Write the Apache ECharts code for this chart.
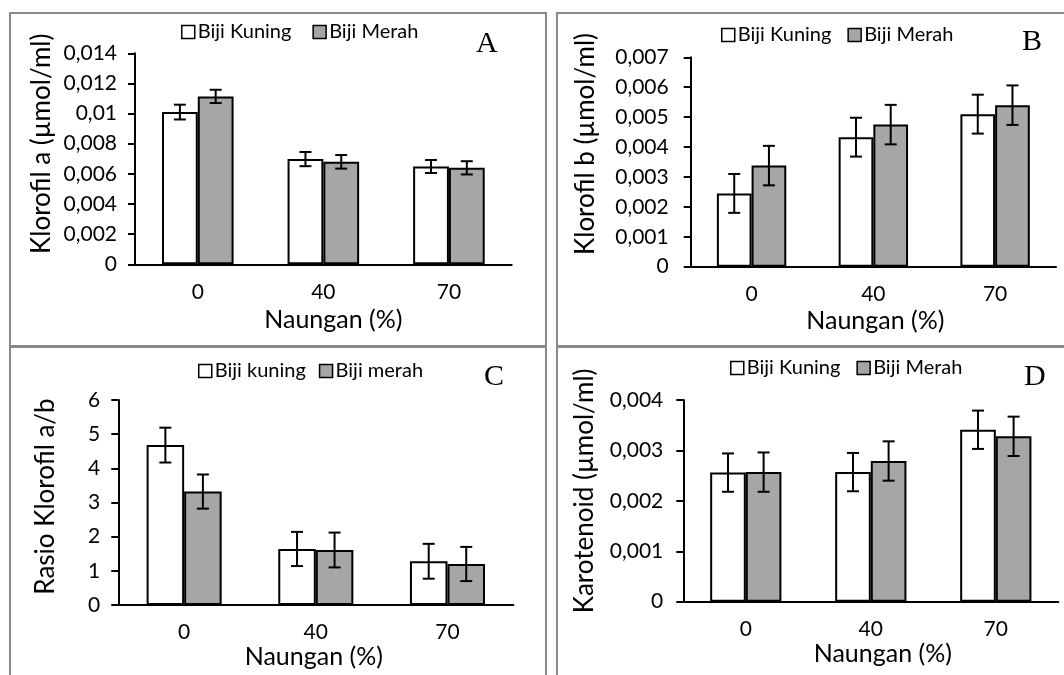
<!DOCTYPE html>
<html>
<head>
<meta charset="utf-8">
<script src="https://cdn.jsdelivr.net/npm/echarts@6/dist/echarts.min.js"></script>
<style>
  html, body { margin: 0; padding: 0; background: #fff; }
  #chart { width: 1064px; height: 675px; }
</style>
</head>
<body>
<div id="chart"></div>
<script>
// 数据
var categories = ['0', '40', '70'];

// A: Klorofil a
var kuningA = [0.0101, 0.00698, 0.00649];
var merahA = [0.01114, 0.0068, 0.0064];
var errKuningA = [0.00049, 0.00047, 0.00043];
var errMerahA = [0.00044, 0.00045, 0.00044];

// B: Klorofil b
var kuningB = [0.00245, 0.00433, 0.0051];
var merahB = [0.00338, 0.00475, 0.0054];
var errKuningB = [0.00065, 0.00065, 0.00065];
var errMerahB = [0.00066, 0.00066, 0.00066];

// C: Rasio a/b
var kuningC = [4.68, 1.64, 1.28];
var merahC = [3.32, 1.61, 1.2];
var errKuningC = [0.51, 0.5, 0.51];
var errMerahC = [0.5, 0.51, 0.5];

// D: Karotenoid
var kuningD = [0.00256, 0.00257, 0.00341];
var merahD = [0.00257, 0.00279, 0.00328];
var errKuningD = [0.00038, 0.00038, 0.00038];
var errMerahD = [0.00039, 0.00039, 0.00039];

var FONT = 'Lato';
var GAP = 0.43; // barCategoryGap

// 格式化 0.002 -> 0,002
function fmt(v) {
    return String(parseFloat(v.toFixed(6))).replace('.', ',');
}

// 误差线
function errRender(side) {
    return function (params, api) {
        var xi = api.value(0);
        var v = api.value(1);
        var e = api.value(2);
        var band = api.size([1, 0])[0];
        var off = side * band * (1 - GAP) / 4;
        var top = api.coord([xi, v + e]);
        var bot = api.coord([xi, v - e]);
        var x = top[0] + off;
        var half = 6;
        var st = { stroke: '#000', lineWidth: 2 };
        return {
            type: 'group',
            children: [
                { type: 'line', shape: { x1: x, y1: top[1], x2: x, y2: bot[1] }, style: st },
                { type: 'line', shape: { x1: x - half, y1: top[1], x2: x + half, y2: top[1] }, style: st },
                { type: 'line', shape: { x1: x - half, y1: bot[1], x2: x + half, y2: bot[1] }, style: st }
            ]
        };
    };
}

function errData(vals, errs) {
    var out = [];
    for (var i = 0; i < vals.length; i++) {
        out.push([i, vals[i], errs[i]]);
    }
    return out;
}

var panels = [
    { grid: { left: 135, top: 53.3, width: 376.7, height: 211 }, max: 0.014, interval: 0.002,
      yName: 'Klorofil a (µmol/ml)', yGap: 80, yMargin: 18, yUp: 15, xShift: 10, xGap: 43,
      names: ['Biji Kuning', 'Biji Merah'], k: kuningA, m: merahA, ek: errKuningA, em: errMerahA,
      legend: { left: 176, top: 17, itemGap: 21 } },
    { grid: { left: 690.7, top: 57.3, width: 365.3, height: 209.4 }, max: 0.007, interval: 0.001,
      yName: 'Klorofil b (µmol/ml)', yGap: 92, yMargin: 22, yUp: 18, xShift: 2, xGap: 42,
      names: ['Biji Kuning', 'Biji Merah'], k: kuningB, m: merahB, ek: errKuningB, em: errMerahB,
      legend: { left: 716, top: 20, itemGap: 16 } },
    { grid: { left: 118.3, top: 400, width: 395, height: 205 }, max: 6, interval: 1,
      yName: 'Rasio Klorofil a/b', yGap: 60, yMargin: 18, yUp: 6, xShift: -2, xGap: 39,
      names: ['Biji kuning', 'Biji merah'], k: kuningC, m: merahC, ek: errKuningC, em: errMerahC,
      legend: { left: 193, top: 356, itemGap: 13 } },
    { grid: { left: 683.3, top: 400, width: 375, height: 201.7 }, max: 0.004, interval: 0.001,
      yName: 'Karotenoid (µmol/ml)', yGap: 86, yMargin: 20, yUp: 10, xShift: 12, xGap: 40,
      names: ['Biji Kuning', 'Biji Merah'], k: kuningD, m: merahD, ek: errKuningD, em: errMerahD,
      legend: { left: 725, top: 353, itemGap: 16 } }
];

var option = {
    backgroundColor: '#fff',
    animation: false,
    grid: [],
    xAxis: [],
    yAxis: [],
    legend: [],
    series: [],
    graphic: []
};

panels.forEach(function (p, i) {
    option.grid.push(p.grid);
    option.xAxis.push({
        type: 'category', gridIndex: i, data: categories,
        axisLine: { lineStyle: { color: '#000', width: 2 } },
        axisTick: { length: 7, lineStyle: { color: '#000', width: 2 } },
        axisLabel: { margin: 17, fontSize: 21, fontFamily: FONT, color: '#000' },
        name: 'Naungan (%)', nameLocation: 'middle', nameGap: p.xGap,
        nameTextStyle: { fontSize: 25, fontFamily: FONT, color: '#000',
            padding: p.xShift > 0 ? [0, 0, 0, 2 * p.xShift] : [0, -2 * p.xShift, 0, 0] }
    });
    option.yAxis.push({
        type: 'value', gridIndex: i, min: 0, max: p.max, interval: p.interval,
        splitLine: { show: false },
        axisLine: { show: true, lineStyle: { color: '#000', width: 2 } },
        axisTick: { show: true, length: 7, lineStyle: { color: '#000', width: 2 } },
        axisLabel: { margin: p.yMargin, fontSize: 21, fontFamily: FONT, color: '#000', formatter: fmt },
        name: p.yName, nameLocation: 'middle', nameGap: p.yGap, nameRotate: 90,
        nameTextStyle: { fontSize: 26, fontFamily: FONT, color: '#000', padding: [0, 0, 0, 2 * p.yUp] }
    });
    option.legend.push({
        data: p.names, left: p.legend.left, top: p.legend.top, itemGap: p.legend.itemGap,
        itemWidth: 13, itemHeight: 13, icon: 'rect', selectedMode: false,
        itemStyle: { borderColor: '#000', borderWidth: 1.5 },
        textStyle: { fontSize: 20, fontFamily: FONT, color: '#000', padding: [0, 0, 0, -2] }
    });
    option.series.push({
        type: 'bar', name: p.names[0], xAxisIndex: i, yAxisIndex: i, data: p.k,
        barGap: '0%', barCategoryGap: (GAP * 100) + '%',
        itemStyle: { color: '#fff', borderColor: '#000', borderWidth: 2 }
    });
    option.series.push({
        type: 'bar', name: p.names[1], xAxisIndex: i, yAxisIndex: i, data: p.m,
        barGap: '0%', barCategoryGap: (GAP * 100) + '%',
        itemStyle: { color: '#a6a6a6', borderColor: '#000', borderWidth: 2 }
    });
    option.series.push({
        type: 'custom', xAxisIndex: i, yAxisIndex: i, z: 5,
        renderItem: errRender(-1), data: errData(p.k, p.ek)
    });
    option.series.push({
        type: 'custom', xAxisIndex: i, yAxisIndex: i, z: 5,
        renderItem: errRender(1), data: errData(p.m, p.em)
    });
});

// 面板边框
var frameStyle = { fill: 'none', stroke: '#8a8a8a', lineWidth: 2 };
option.graphic.push(
    { type: 'rect', shape: { x: 10, y: 13, width: 536, height: 333 }, style: frameStyle, silent: true },
    { type: 'rect', shape: { x: 557, y: 13, width: 520, height: 333 }, style: frameStyle, silent: true },
    { type: 'rect', shape: { x: 10, y: 347, width: 536, height: 340 }, style: frameStyle, silent: true },
    { type: 'rect', shape: { x: 557, y: 347, width: 520, height: 340 }, style: frameStyle, silent: true }
);

// 字母
var letters = [['A', 476, 44], ['B', 1022, 42.5], ['C', 484, 377], ['D', 1024, 377.5]];
letters.forEach(function (l) {
    option.graphic.push({
        type: 'text', x: l[1], y: l[2], silent: true,
        style: { text: l[0], font: '30px "Liberation Serif"', fill: '#000', verticalAlign: 'middle', align: 'left' }
    });
});

var chart = echarts.init(document.getElementById('chart'));
chart.setOption(option);
</script>
</body>
</html>
